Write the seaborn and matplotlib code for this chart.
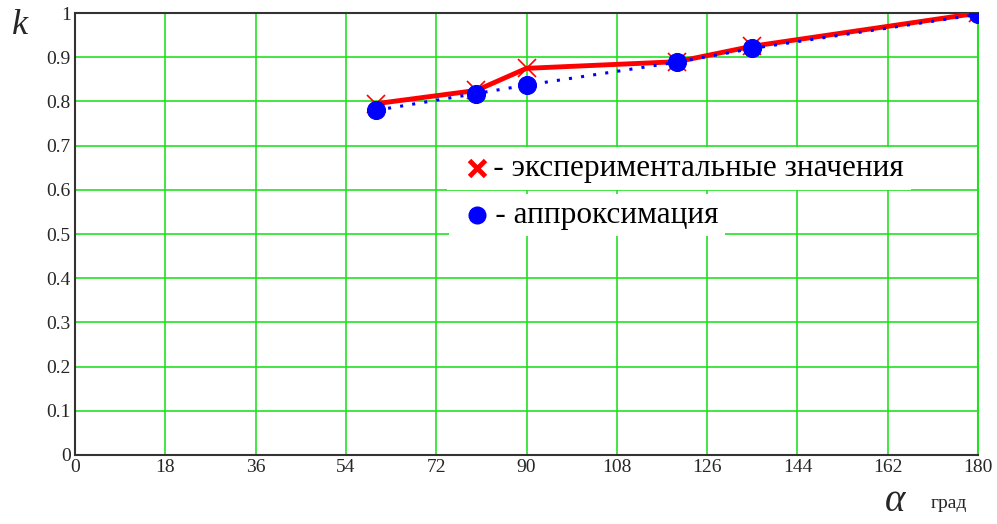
import seaborn as sns
import pandas as pd
import matplotlib.pyplot as plt

# угол, град
alpha_exp = [60, 80, 90, 120, 135, 180]
k_exp = [0.795, 0.825, 0.875, 0.89, 0.925, 1.0]
alpha_apr = [60, 80, 90, 120, 135, 180]
k_apr = [0.78, 0.818, 0.837, 0.889, 0.92, 0.997]
x_ticks = [0, 18, 36, 54, 72, 90, 108, 126, 144, 162, 180]
y_ticks = [0, 0.1, 0.2, 0.3, 0.4, 0.5, 0.6, 0.7, 0.8, 0.9, 1]
y_labels = ['0', '0.1', '0.2', '0.3', '0.4', '0.5', '0.6', '0.7', '0.8', '0.9', '1']

sns.set_style('white')
plt.rcParams['font.family'] = ['Liberation Serif', 'DejaVu Serif']

exp = pd.DataFrame({'alpha': alpha_exp, 'k': k_exp})
apr = pd.DataFrame({'alpha': alpha_apr, 'k': k_apr})

fig = plt.figure(figsize=(9.97, 5.24), dpi=100)
ax = fig.add_axes([0.0752, 0.1317, 0.9058, 0.8433])

sns.lineplot(data=exp, x='alpha', y='k', ax=ax, color='red', linewidth=3.5,
             marker='x', markersize=13, markeredgewidth=1.2, markeredgecolor='red', zorder=3)
sns.lineplot(data=apr, x='alpha', y='k', ax=ax, color='blue', linewidth=2.2,
             linestyle=(0, (1, 3)), marker='o', markersize=13, markeredgecolor='blue', zorder=4)

ax.set_xlim(0, 180)
ax.set_ylim(0, 1)
ax.set_xticks(x_ticks)
ax.set_yticks(y_ticks)
ax.set_yticklabels(y_labels)
ax.tick_params(labelsize=14, length=0, pad=3)
ax.grid(True, color='#22e022', linewidth=1.2)
ax.set_axisbelow(True)
ax.set_xlabel('')
ax.set_ylabel('')
for s in ['left', 'bottom', 'top']:
    ax.spines[s].set_color('#333333')
    ax.spines[s].set_linewidth(1.5)
ax.spines['right'].set_color('#22e022')
ax.spines['right'].set_linewidth(1.5)

# подписи осей
fig.text(0.012, 0.935, 'k', fontsize=26, style='italic')
fig.text(0.888, 0.025, 'α', fontsize=28, style='italic')
fig.text(0.933, 0.03, 'град', fontsize=14)

# легенда
ax.text(0.42, 0.649, '     - экспериментальные значения', fontsize=22.5, color='black',
        transform=ax.transAxes, va='center', ha='left',
        bbox=dict(facecolor='white', edgecolor='none', pad=5))
ax.plot([0.445], [0.649], 'x', color='red', markersize=11, markeredgewidth=3.5,
        transform=ax.transAxes, zorder=5)
ax.text(0.422, 0.543, '     - аппроксимация', fontsize=22.5, color='black',
        transform=ax.transAxes, va='center', ha='left',
        bbox=dict(facecolor='white', edgecolor='none', pad=5))
ax.plot([0.445], [0.543], 'o', color='blue', markersize=12,
        transform=ax.transAxes, zorder=5)

fig.savefig('out.png', dpi=100)
